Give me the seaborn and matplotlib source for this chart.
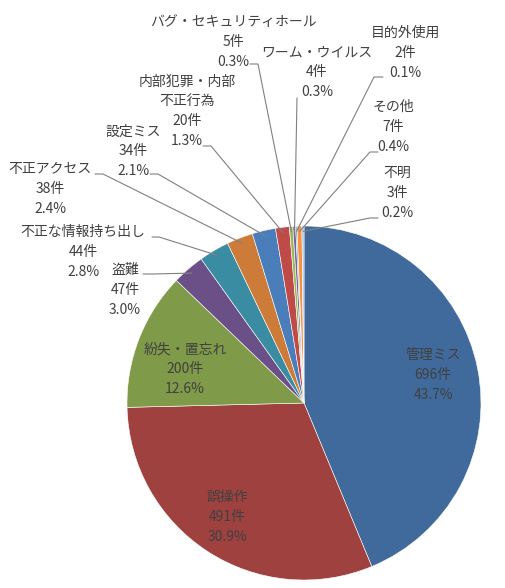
import numpy as np
import matplotlib
matplotlib.use("Agg")
import matplotlib.pyplot as plt
import seaborn as sns

# data (clockwise from 12 o'clock)
categories = ["管理ミス", "誤操作", "紛失・置忘れ", "盗難", "不正な情報持ち出し",
              "不正アクセス", "設定ミス", "内部犯罪・内部\n不正行為", "バグ・セキュリティホール",
              "ワーム・ウイルス", "目的外使用", "その他", "不明"]
counts = [696, 491, 200, 47, 44, 38, 34, 20, 5, 4, 2, 7, 3]
colors = ["#406A9C", "#9E413F", "#7F9A48", "#6A5087", "#3A8CA2", "#CC7B38",
          "#4A7EBB", "#BE4B48", "#98B954", "#7D60A0", "#46AAC5", "#F69240", "#A9C0DE"]

# label layout in pixel coords (x, y from top): text centre, leader start, hook length
inside_pos = {0: (433, 375), 1: (227, 517), 2: (185, 369)}
outside_pos = {
    3: ((125, 290), (143, 274), 9),
    4: ((83, 252), (152, 237), 7),
    5: ((50, 189), (95, 174), 8),
    6: ((133, 151), (150, 174), 8),
    7: ((187, 111), (203, 146), 8),
    8: ((233, 42), (250, 64), 8),
    9: ((317, 72), (297, 98), 0),
    10: ((405, 53), (383, 77), -9),
    11: ((393, 127), (378, 152), -8),
    12: ((397, 193), (378, 218), -8),
}

W, H = 505, 588
CX, CY, R = 304, 403, 177

sns.set_theme(style="white")
plt.rcParams["font.family"] = ["Noto Sans CJK JP", "DejaVu Sans"]

fig = plt.figure(figsize=(W / 100, H / 100), dpi=100)
ax = fig.add_axes([0, 0, 1, 1])

wedges, _ = ax.pie(counts, colors=colors, startangle=90, counterclock=False,
                   center=(CX, H - CY), radius=R,
                   wedgeprops=dict(linewidth=0.4, edgecolor="white"))
ax.set_xlim(0, W)
ax.set_ylim(0, H)
ax.set_aspect("equal")
ax.axis("off")

total = sum(counts)
txt_kw = dict(ha="center", va="center", fontsize=10, color="#404040", linespacing=1.52)
for i, (cat, n) in enumerate(zip(categories, counts)):
    label = f"{cat}\n{n}件\n{n / total * 100:.1f}%"
    if i in inside_pos:
        x, y = inside_pos[i]
        ax.text(x, H - y, label, **txt_kw)
    else:
        (tx, ty), (lx, ly), hook = outside_pos[i]
        ax.text(tx, H - ty, label, **txt_kw)
        w = wedges[i]
        ang = np.deg2rad((w.theta1 + w.theta2) / 2)
        ex = w.center[0] + w.r * 0.97 * np.cos(ang)
        ey = w.center[1] + w.r * 0.97 * np.sin(ang)
        ax.plot([lx, lx + hook, ex], [H - ly, H - ly, ey],
                color="#808080", linewidth=0.8)

fig.savefig("out.png", dpi=100)
